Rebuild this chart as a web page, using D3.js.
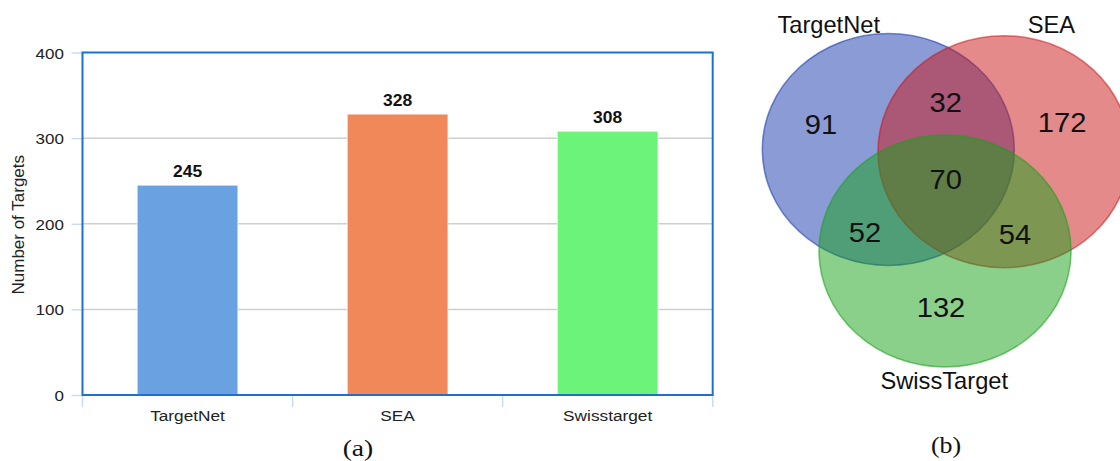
<!DOCTYPE html>
<html>
<head>
<meta charset="utf-8">
<script src="https://cdn.jsdelivr.net/npm/d3@7"></script>
<style>
  html, body { margin: 0; padding: 0; background: #ffffff; }
  svg { display: block; }
</style>
</head>
<body>
<svg id="chart" width="1120" height="461"></svg>
<script>
// ---------- DATA ----------
const categories = ["TargetNet", "SEA", "Swisstarget"];
const targetCounts = [245, 328, 308];
const barColors = ["#6aa1e0", "#f0885a", "#6cf379"];
const yTicks = [0, 100, 200, 300, 400];
const yTitle = "Number of Targets";

const vennSets = ["TargetNet", "SEA", "SwissTarget"];
const vennSetColors = ["rgb(22,56,174)", "rgb(204,22,24)", "rgb(22,162,24)"];
// region counts: only A, A∩B, only B, A∩B∩C, A∩C, B∩C, only C
const vennRegions = ["TargetNet", "TargetNet∩SEA", "SEA", "all", "TargetNet∩SwissTarget", "SEA∩SwissTarget", "SwissTarget"];
const vennCounts = [91, 32, 172, 70, 52, 54, 132];

const captions = ["(a)", "(b)"];

// ---------- SETUP ----------
const svg = d3.select("#chart");
const SANS = "Liberation Sans, Arial, sans-serif";
const STRETCH = 1.12; // horizontal stretch of the original figure's text

// ---------- BAR CHART ----------
const frame = { left: 82.5, right: 712.7, top: 52.5, bottom: 395 };

const x = d3.scaleBand()
  .domain(categories)
  .range([frame.left, frame.right])
  .paddingInner(0.521)
  .paddingOuter(0.2605);

const y = d3.scaleLinear()
  .domain([0, 400])
  .range([frame.bottom, frame.top]);

const bar = svg.append("g");

// gridlines
bar.append("g")
  .selectAll("line")
  .data(yTicks.filter(d => d > 0 && d < 400))
  .join("line")
  .attr("x1", frame.left).attr("x2", frame.right)
  .attr("y1", d => y(d)).attr("y2", d => y(d))
  .attr("stroke", "#cfcfcf").attr("stroke-width", 1.5);

// y axis ticks and labels
const yAxis = d3.axisLeft(y).tickValues(yTicks).tickSize(11).tickPadding(8).tickFormat(d3.format("d"));
const yg = bar.append("g").attr("transform", `translate(${frame.left},0)`).call(yAxis);
yg.select(".domain").remove();
yg.selectAll(".tick line").attr("stroke", "#c9dcf2").attr("stroke-width", 1.5);
yg.selectAll(".tick text")
  .attr("x", 0).attr("dy", null).attr("y", 5.5)
  .attr("transform", `translate(-18.5,0) scale(${STRETCH},1)`)
  .attr("font-family", SANS)
  .attr("font-size", 15.2).attr("fill", "#222");

// x axis: band boundary ticks
const step = x.step();
const boundaries = categories.map(c => x(c) - (step - x.bandwidth()) / 2).concat([frame.right]);
bar.append("g")
  .selectAll("line")
  .data(boundaries)
  .join("line")
  .attr("x1", d => d).attr("x2", d => d)
  .attr("y1", frame.bottom).attr("y2", frame.bottom + 12)
  .attr("stroke", "#c9dcf2").attr("stroke-width", 1.5);

bar.append("g")
  .selectAll("text")
  .data(categories)
  .join("text")
  .attr("transform", d => `translate(${x(d) + x.bandwidth() / 2},421) scale(${STRETCH},1)`)
  .attr("text-anchor", "middle")
  .attr("font-family", SANS)
  .attr("font-size", 15.4).attr("fill", "#222")
  .text(d => d);

// bars
bar.append("g")
  .selectAll("rect")
  .data(categories)
  .join("rect")
  .attr("x", d => x(d))
  .attr("width", x.bandwidth())
  .attr("y", (d, i) => y(targetCounts[i]))
  .attr("height", (d, i) => y(0) - y(targetCounts[i]))
  .attr("fill", (d, i) => barColors[i])
  .attr("stroke", "#ffffff").attr("stroke-width", 1).attr("stroke-opacity", 0.6);

// value labels
bar.append("g")
  .selectAll("text")
  .data(categories)
  .join("text")
  .attr("transform", (d, i) => `translate(${x(d) + x.bandwidth() / 2},${y(targetCounts[i]) - 8}) scale(1.07,1)`)
  .attr("text-anchor", "middle")
  .attr("font-family", SANS)
  .attr("font-weight", "bold")
  .attr("font-size", 16.3).attr("fill", "#111")
  .text((d, i) => targetCounts[i]);

// frame
bar.append("rect")
  .attr("x", frame.left).attr("y", frame.top)
  .attr("width", frame.right - frame.left).attr("height", frame.bottom - frame.top)
  .attr("fill", "none").attr("stroke", "#1f6fcf").attr("stroke-width", 2);

// y title
bar.append("text")
  .attr("transform", `translate(23.5,${(frame.top + frame.bottom) / 2 + 1}) rotate(-90)`)
  .attr("text-anchor", "middle")
  .attr("font-family", SANS)
  .attr("font-size", 17).attr("fill", "#222")
  .text(yTitle);

// ---------- VENN DIAGRAM ----------
// layout in unit-circle coordinates
const vx = d3.scaleLinear().domain([0, 1]).range([945, 945 + 126]);
const vy = d3.scaleLinear().domain([0, 1]).range([185, 185 + 116]);
const vennCenters = [[-0.45, -0.306], [0.468, -0.287], [0, 0.569]];
const regionPos = [[-0.984, -0.44], [0.006, -0.627], [0.929, -0.459], [0.006, 0.034], [-0.635, 0.489], [0.556, 0.511], [-0.032, 1.14]];
const setLabelPos = [[-0.923, -1.307], [0.844, -1.307], [-0.006, 1.761]];

const venn = svg.append("g");
venn.selectAll("ellipse")
  .data(vennSets)
  .join("ellipse")
  .attr("cx", (d, i) => vx(vennCenters[i][0]))
  .attr("cy", (d, i) => vy(vennCenters[i][1]))
  .attr("rx", vx(1) - vx(0))
  .attr("ry", vy(1) - vy(0))
  .attr("fill", (d, i) => vennSetColors[i])
  .attr("fill-opacity", 0.5)
  .attr("stroke", (d, i) => vennSetColors[i])
  .attr("stroke-opacity", 0.55)
  .attr("stroke-width", 1.6);

venn.append("g")
  .selectAll("text")
  .data(vennRegions)
  .join("text")
  .attr("transform", (d, i) => `translate(${vx(regionPos[i][0])},${vy(regionPos[i][1])}) scale(1.04,1)`)
  .attr("text-anchor", "middle")
  .attr("font-family", SANS)
  .attr("font-size", 28).attr("fill", "#111")
  .text((d, i) => vennCounts[i]);

venn.append("g")
  .selectAll("text")
  .data(vennSets)
  .join("text")
  .attr("transform", (d, i) => `translate(${vx(setLabelPos[i][0])},${vy(setLabelPos[i][1])}) scale(1.03,1)`)
  .attr("text-anchor", "middle")
  .attr("font-family", SANS)
  .attr("font-size", 23).attr("fill", "#111")
  .text(d => d);

// ---------- CAPTIONS ----------
const captionX = [358, 946];
const captionY = [456, 453];
const captionSize = [23, 24];
const captionStretch = [1.2, 1.08];
svg.append("g")
  .selectAll("text")
  .data(captions)
  .join("text")
  .attr("transform", (d, i) => `translate(${captionX[i]},${captionY[i]}) scale(${captionStretch[i]},1)`)
  .attr("text-anchor", "middle")
  .attr("font-family", "Liberation Serif, Times New Roman, serif")
  .attr("font-size", (d, i) => captionSize[i]).attr("fill", "#111")
  .text(d => d);
</script>
</body>
</html>
